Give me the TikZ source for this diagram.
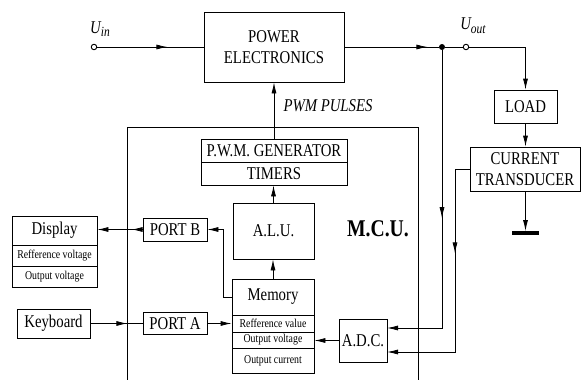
\documentclass[tikz,border=0pt]{standalone}
\usepackage{fontspec}
\setmainfont{Liberation Serif}[FakeStretch=0.82]
\usetikzlibrary{arrows.meta,decorations.markings}
\tikzset{
  box/.style={draw, line width=0.8pt, inner sep=0pt, align=center, font=\fontsize{18}{21}\selectfont},
  sbox/.style={draw, line width=0.8pt, inner sep=0pt, font=\fontsize{12}{14}\selectfont},
  conn/.style={line width=0.8pt},
  tip/.style={-{Latex[length=11pt,width=5pt]}},
  midtip/.style={decoration={markings, mark=at position #1 with {\arrow{Latex[length=11pt,width=5pt]}}}, postaction={decorate}},
  term/.style={circle, draw, fill=white, line width=0.9pt, inner sep=0pt, minimum size=5.5pt},
  lbl/.style={inner sep=0pt, font=\fontsize{18}{21}\selectfont},
}
\begin{document}
\begin{tikzpicture}[x=1pt,y=-1pt]
\useasboundingbox (0,0) rectangle (582,380);
% boxes
\node[box, minimum width=140pt, minimum height=70pt] (pe) at (274,47) {POWER\\ELECTRONICS};
\node[box, minimum width=146pt, minimum height=23pt] (pwm) at (274,150.5) {P.W.M. GENERATOR};
\node[box, minimum width=146pt, minimum height=23pt] (tim) at (274,173.5) {TIMERS};
\node[box, minimum width=81pt, minimum height=56pt] (alu) at (273.5,231) {A.L.U.};
\node[box, minimum width=82pt, minimum height=36pt] (mem0) at (273,297) {Memory};
\node[sbox, minimum width=82pt, minimum height=17pt] (mem1) at (273,323.5) {Refference value};
\node[sbox, minimum width=82pt, minimum height=16pt] (mem2) at (273,340) {Output voltage};
\node[sbox, minimum width=82pt, minimum height=25pt] (mem3) at (273,360.5) {Output current};
\node[box, minimum width=85pt, minimum height=29pt] (disp0) at (54.5,230.5) {Display};
\node[sbox, minimum width=85pt, minimum height=21pt] (disp1) at (54.5,255.5) {Refference voltage};
\node[sbox, minimum width=85pt, minimum height=21pt] (disp2) at (54.5,276.5) {Output voltage};
\node[box, minimum width=64pt, minimum height=23pt] (portb) at (175,229.5) {PORT B};
\node[box, minimum width=64pt, minimum height=22pt] (porta) at (175,323.5) {PORT A};
\node[box, minimum width=73pt, minimum height=29pt] (kb) at (53.5,323.5) {Keyboard};
\node[box, minimum width=48pt, minimum height=43pt] (adc) at (363,340.5) {A.D.C.};
\node[box, minimum width=63pt, minimum height=33pt] (load) at (525.5,106.5) {LOAD};
\node[box, minimum width=110pt, minimum height=44pt] (ct) at (525,169) {CURRENT\\TRANSDUCER};
\node[fill, inner sep=0pt, minimum width=27pt, minimum height=4pt, anchor=north] (gbar) at (525.5,231) {};
% MCU outline
\coordinate (m1) at (127,385);
\coordinate (m2) at (127,127);
\coordinate (m3) at (418,127);
\coordinate (m4) at (418,385);
\draw[conn] (m1) -- (m2) -- (m3) -- (m4);
% labels
\node[lbl, font=\fontsize{24}{26}\selectfont\bfseries] (mcu) at (378,229) {M.C.U.};
\node[lbl, font=\fontsize{18}{21}\selectfont\itshape] (pwml) at (328,106) {PWM PULSES};
\node[lbl] (uinl) at (100,29) {\itshape U\raisebox{-0.45ex}{\fontsize{14}{15}\selectfont in}};
\node[lbl] (uoutl) at (473,26) {\itshape U\raisebox{-0.45ex}{\fontsize{14}{15}\selectfont out}};
% terminals
\node[term] (uin) at (94,47) {};
\node[circle, fill, inner sep=0pt, minimum size=6pt] (dot) at (442,47) {};
\node[term] (uout) at (466,47) {};
\coordinate (b1) at (455,169);
\coordinate (adcin1) at (387,328);
\coordinate (adcin2) at (387,352);
\coordinate (b2) at (223,297);
% connectors
\draw[conn, midtip=0.66] (uin) -- (pe.west);
\draw[conn, midtip=0.88] (pe.east) -- (dot);
\draw[conn] (dot) -- (uout);
\draw[conn, tip] (uout) -- (load.north |- uout) -- (load.north);
\draw[conn, tip] (load.south) -- (load.south |- ct.north);
\draw[conn, tip] (ct.south -| gbar.north) -- (gbar.north);
\draw[conn, tip, midtip=168pt] (dot) |- (adcin1);
\draw[conn, tip, midtip=99pt] (ct.west) -- (b1) |- (adcin2);
\draw[conn, tip] (adc.west) -- (mem2.east |- adc.west);
\draw[conn, tip] (mem0.west) -- (b2) |- (portb.east);
\draw[conn, tip, midtip=11pt] (portb.west) -- (portb.west -| disp0.east);
\draw[conn, midtip=37pt] (kb.east) -- (porta.west);
\draw[conn, tip] (porta.east) -- (mem1.west);
\draw[conn, tip] (mem0.north) -- (mem0.north |- alu.south);
\draw[conn, tip] (alu.north) -- (alu.north |- tim.south);
\draw[conn, tip] (pwm.north) -- (pwm.north |- pe.south);
\end{tikzpicture}
\end{document}
